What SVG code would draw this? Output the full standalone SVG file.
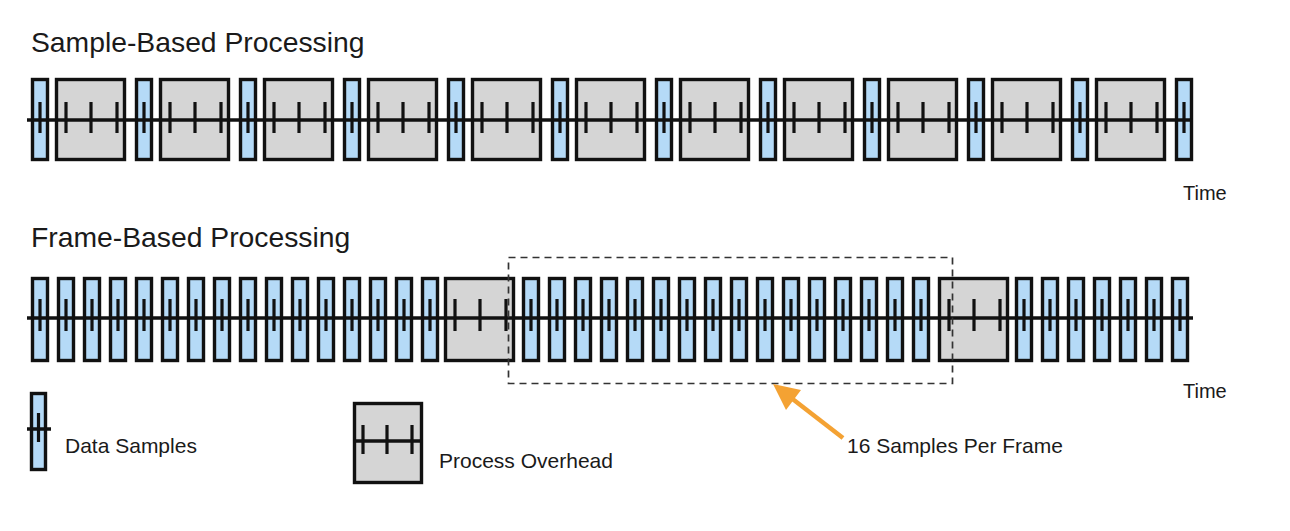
<svg xmlns="http://www.w3.org/2000/svg" xmlns:xlink="http://www.w3.org/1999/xlink" width="1290" height="531" viewBox="0 0 1290 531">
<style>
.blue{fill:#b5daf7;stroke:#111;stroke-width:3.4}
.gray{fill:#d5d5d5;stroke:#111;stroke-width:3.4}
.tick{stroke:#111;stroke-width:3.2}
.axis{stroke:#111;stroke-width:3.5;fill:none}
.title{font-family:"Liberation Sans",Arial,sans-serif;font-size:28.3px;fill:#1a1a1a}
.lbl{font-family:"Liberation Sans",Arial,sans-serif;font-size:21px;fill:#1a1a1a}
.time{font-family:"Liberation Sans",Arial,sans-serif;font-size:20px;fill:#1a1a1a}
.frame{fill:none;stroke:#333;stroke-width:1.7;stroke-dasharray:7 5}
.arrow{stroke:#f4a233;stroke-width:4.5;fill:none}
.arrowhead{fill:#f4a233}
</style>
<defs>
<g id="blueA"><rect class="blue" x="1.5" y="1.5" width="15" height="80"/><line class="tick" x1="9" y1="24" x2="9" y2="55"/></g>
<g id="grayA"><rect class="gray" x="1.5" y="1.5" width="68" height="80"/><line class="tick" x1="11" y1="24" x2="11" y2="55"/><line class="tick" x1="36" y1="24" x2="36" y2="55"/><line class="tick" x1="62" y1="24" x2="62" y2="55"/></g>
<g id="blueB"><rect class="blue" x="1.5" y="1.5" width="15" height="82"/><line class="tick" x1="9" y1="22" x2="9" y2="54"/></g>
<g id="grayB"><rect class="gray" x="1.5" y="1.5" width="68" height="82"/><line class="tick" x1="11" y1="22" x2="11" y2="54"/><line class="tick" x1="36" y1="22" x2="36" y2="54"/><line class="tick" x1="62" y1="22" x2="62" y2="54"/></g>
</defs>
<rect width="1290" height="531" fill="#ffffff"/>
<text class="title" x="31" y="52">Sample-Based Processing</text>
<text class="title" x="31" y="247">Frame-Based Processing</text>

<g id="sample-row">
<g id="sr-s1"><use xlink:href="#blueA" x="31" y="78"/></g>
<g id="sr-o1"><use xlink:href="#grayA" x="55" y="78"/></g>
<g id="sr-s2"><use xlink:href="#blueA" x="135" y="78"/></g>
<g id="sr-o2"><use xlink:href="#grayA" x="159" y="78"/></g>
<g id="sr-s3"><use xlink:href="#blueA" x="239" y="78"/></g>
<g id="sr-o3"><use xlink:href="#grayA" x="263" y="78"/></g>
<g id="sr-s4"><use xlink:href="#blueA" x="343" y="78"/></g>
<g id="sr-o4"><use xlink:href="#grayA" x="367" y="78"/></g>
<g id="sr-s5"><use xlink:href="#blueA" x="447" y="78"/></g>
<g id="sr-o5"><use xlink:href="#grayA" x="471" y="78"/></g>
<g id="sr-s6"><use xlink:href="#blueA" x="551" y="78"/></g>
<g id="sr-o6"><use xlink:href="#grayA" x="575" y="78"/></g>
<g id="sr-s7"><use xlink:href="#blueA" x="655" y="78"/></g>
<g id="sr-o7"><use xlink:href="#grayA" x="679" y="78"/></g>
<g id="sr-s8"><use xlink:href="#blueA" x="759" y="78"/></g>
<g id="sr-o8"><use xlink:href="#grayA" x="783" y="78"/></g>
<g id="sr-s9"><use xlink:href="#blueA" x="863" y="78"/></g>
<g id="sr-o9"><use xlink:href="#grayA" x="887" y="78"/></g>
<g id="sr-s10"><use xlink:href="#blueA" x="967" y="78"/></g>
<g id="sr-o10"><use xlink:href="#grayA" x="991" y="78"/></g>
<g id="sr-s11"><use xlink:href="#blueA" x="1071" y="78"/></g>
<g id="sr-o11"><use xlink:href="#grayA" x="1095" y="78"/></g>
<g id="sr-s12"><use xlink:href="#blueA" x="1175" y="78"/></g>
</g>

<g id="frame-row">
<g id="fr-s1"><use xlink:href="#blueB" x="31" y="277"/></g>
<g id="fr-s2"><use xlink:href="#blueB" x="57" y="277"/></g>
<g id="fr-s3"><use xlink:href="#blueB" x="83" y="277"/></g>
<g id="fr-s4"><use xlink:href="#blueB" x="109" y="277"/></g>
<g id="fr-s5"><use xlink:href="#blueB" x="135" y="277"/></g>
<g id="fr-s6"><use xlink:href="#blueB" x="161" y="277"/></g>
<g id="fr-s7"><use xlink:href="#blueB" x="187" y="277"/></g>
<g id="fr-s8"><use xlink:href="#blueB" x="213" y="277"/></g>
<g id="fr-s9"><use xlink:href="#blueB" x="239" y="277"/></g>
<g id="fr-s10"><use xlink:href="#blueB" x="265" y="277"/></g>
<g id="fr-s11"><use xlink:href="#blueB" x="291" y="277"/></g>
<g id="fr-s12"><use xlink:href="#blueB" x="317" y="277"/></g>
<g id="fr-s13"><use xlink:href="#blueB" x="343" y="277"/></g>
<g id="fr-s14"><use xlink:href="#blueB" x="369" y="277"/></g>
<g id="fr-s15"><use xlink:href="#blueB" x="395" y="277"/></g>
<g id="fr-s16"><use xlink:href="#blueB" x="421" y="277"/></g>
<g id="fr-o1"><use xlink:href="#grayB" x="444" y="277"/></g>
<g id="fr-s17"><use xlink:href="#blueB" x="522" y="277"/></g>
<g id="fr-s18"><use xlink:href="#blueB" x="548" y="277"/></g>
<g id="fr-s19"><use xlink:href="#blueB" x="574" y="277"/></g>
<g id="fr-s20"><use xlink:href="#blueB" x="600" y="277"/></g>
<g id="fr-s21"><use xlink:href="#blueB" x="626" y="277"/></g>
<g id="fr-s22"><use xlink:href="#blueB" x="652" y="277"/></g>
<g id="fr-s23"><use xlink:href="#blueB" x="678" y="277"/></g>
<g id="fr-s24"><use xlink:href="#blueB" x="704" y="277"/></g>
<g id="fr-s25"><use xlink:href="#blueB" x="730" y="277"/></g>
<g id="fr-s26"><use xlink:href="#blueB" x="756" y="277"/></g>
<g id="fr-s27"><use xlink:href="#blueB" x="782" y="277"/></g>
<g id="fr-s28"><use xlink:href="#blueB" x="808" y="277"/></g>
<g id="fr-s29"><use xlink:href="#blueB" x="834" y="277"/></g>
<g id="fr-s30"><use xlink:href="#blueB" x="860" y="277"/></g>
<g id="fr-s31"><use xlink:href="#blueB" x="886" y="277"/></g>
<g id="fr-s32"><use xlink:href="#blueB" x="912" y="277"/></g>
<g id="fr-o2"><use xlink:href="#grayB" x="938" y="277"/></g>
<g id="fr-s33"><use xlink:href="#blueB" x="1015" y="277"/></g>
<g id="fr-s34"><use xlink:href="#blueB" x="1041" y="277"/></g>
<g id="fr-s35"><use xlink:href="#blueB" x="1067" y="277"/></g>
<g id="fr-s36"><use xlink:href="#blueB" x="1093" y="277"/></g>
<g id="fr-s37"><use xlink:href="#blueB" x="1119" y="277"/></g>
<g id="fr-s38"><use xlink:href="#blueB" x="1145" y="277"/></g>
<g id="fr-s39"><use xlink:href="#blueB" x="1171" y="277"/></g>
</g>

<g id="legend-sample">
<rect class="blue" x="31.5" y="393.5" width="14" height="76"/>
<line class="tick" x1="38.5" y1="413" x2="38.5" y2="442"/>
<line class="axis" x1="27" y1="429" x2="51" y2="429"/>
<text class="lbl" x="65" y="453">Data Samples</text>
</g>
<g id="legend-overhead">
<rect class="gray" x="354.5" y="403.5" width="67" height="79"/>
<line class="tick" x1="363" y1="425" x2="363" y2="454"/>
<line class="tick" x1="387" y1="425" x2="387" y2="454"/>
<line class="tick" x1="412" y1="425" x2="412" y2="454"/>
<line class="axis" x1="354" y1="441" x2="422" y2="441"/>
<text class="lbl" x="439" y="468">Process Overhead</text>
</g>

<g id="connectors">
<line class="axis" x1="27" y1="120" x2="1193" y2="120"/>
<line class="axis" x1="27" y1="318" x2="1193" y2="318"/>
<rect id="frame-box" class="frame" x="508.5" y="257.5" width="444" height="126"/>
<line class="arrow" x1="843" y1="438" x2="790" y2="397"/>
<polygon class="arrowhead" points="773,384 801,390 786,410"/>
</g>

<text class="time" x="1183" y="200">Time</text>
<text class="time" x="1183" y="398">Time</text>
<text class="lbl" x="847" y="453">16 Samples Per Frame</text>
</svg>
